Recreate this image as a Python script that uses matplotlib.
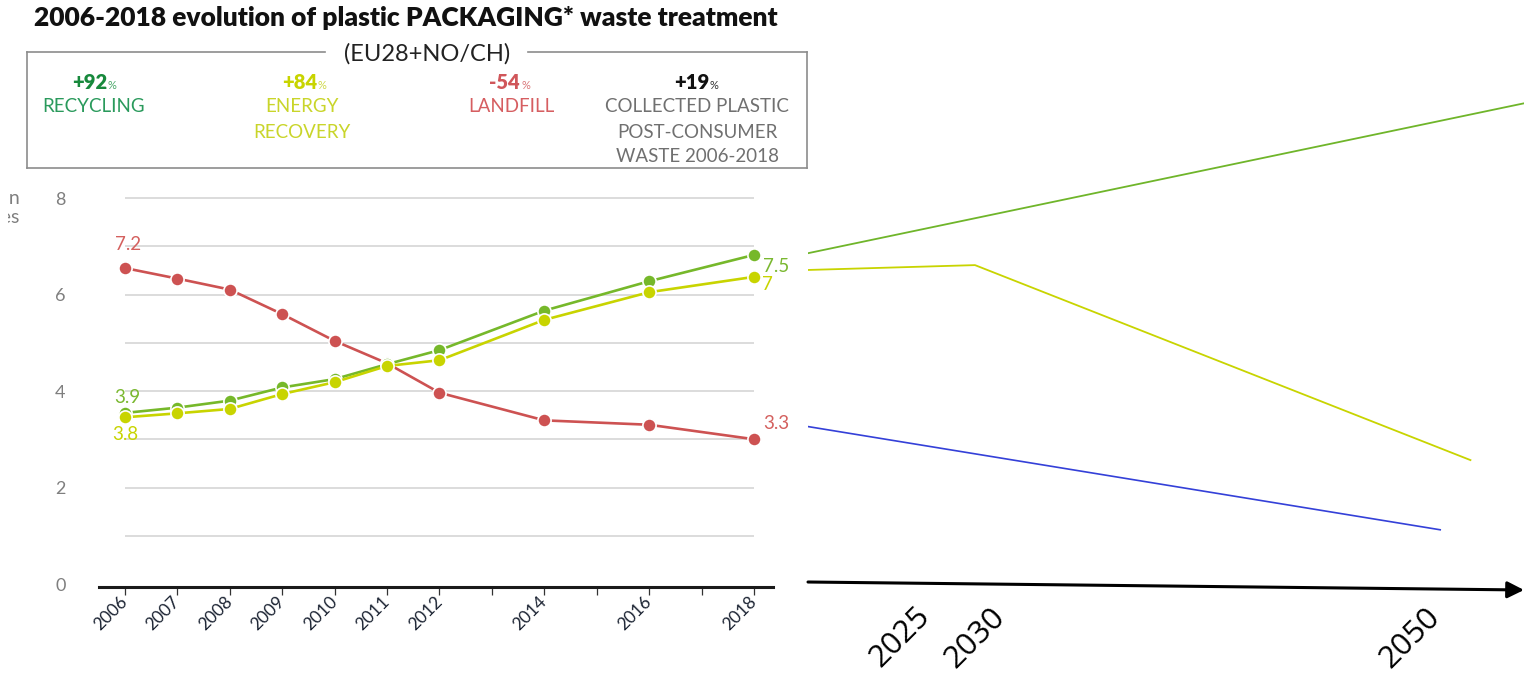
import numpy as np
import matplotlib
matplotlib.use("Agg")
import matplotlib.pyplot as plt
from matplotlib.lines import Line2D
from matplotlib.transforms import Bbox, TransformedBbox

# ---------------- data ----------------
years = [2006, 2007, 2008, 2009, 2010, 2011, 2012, 2014, 2016, 2018]
recycling = [3.9, 4.02, 4.18, 4.48, 4.67, 5.01, 5.33, 6.23, 6.90, 7.5]
energy_recovery = [3.8, 3.89, 3.99, 4.33, 4.60, 4.97, 5.10, 6.02, 6.65, 7.0]
landfill = [7.2, 6.96, 6.71, 6.15, 5.54, 5.03, 4.36, 3.73, 3.63, 3.3]

year_ticks = list(range(2006, 2019))
year_tick_labels = [str(y) if y in years else "" for y in year_ticks]
y_tick_values = [0, 2, 4, 6, 8]
y_tick_labels = ["0", "2", "4", "6", "8"]

change_values = ["+92", "+84", "-54", "+19"]
change_names = ["RECYCLING", "ENERGY\nRECOVERY", "LANDFILL",
                "COLLECTED PLASTIC\nPOST-CONSUMER\nWASTE 2006-2018"]

# projections beyond 2018
proj_recycling_years = [2018, 2055.3]
proj_recycling = [7.5, 10.9]
proj_energy_years = [2018, 2030, 2052.8]
proj_energy = [7.12, 7.23, 2.81]
proj_landfill_years = [2018, 2051.4]
proj_landfill = [3.57, 1.23]
proj_ticks = [2025, 2030, 2050]

# ---------------- styling ----------------
W, H = 1524, 679
RED, GREEN, YELLOW, BLUE = "#cd5252", "#76b82a", "#c8d400", "#3440d8"
GRID_STEP = 1 / 0.91          # printed axis units per data unit
FONT = "Lato"

def fx(x):
    return x / W

def fy(y):
    return 1 - y / H

fig = plt.figure(figsize=(W / 100, H / 100), dpi=100)
fig.patch.set_facecolor("white")

# ---------------- title and header box ----------------
fig.text(fx(406), fy(18), "2006-2018 evolution of plastic PACKAGING* waste treatment",
         ha="center", va="center", fontsize=19, fontweight="heavy", family=FONT, color="#111111")

box_col = "#8c8c8c"
for xs, ys in [([27, 325], [52, 52]), ([528, 807], [52, 52]), ([807, 807], [52, 168]),
               ([27, 807], [168, 168]), ([27, 27], [52, 168])]:
    fig.add_artist(Line2D([fx(v) for v in xs], [fy(v) for v in ys],
                          transform=fig.transFigure, color=box_col, lw=1.2))
fig.text(fx(427), fy(54), "(EU28+NO/CH)", ha="center", va="center",
         fontsize=17, family=FONT, color="#222222")

num_colors = ["#17893c", YELLOW, "#d0565a", "#111111"]
pct_colors = ["#4aa86a", "#cfd94a", "#d9777a", "#333333"]
name_colors = ["#2a9a5c", "#c9d52a", "#d65e61", "#707070"]
num_right = [107, 317, 520, 709]
name_center = [94, 302, 511, 697]
for val, name, nc, pc, tc, xr, xc in zip(change_values, change_names, num_colors,
                                          pct_colors, name_colors, num_right, name_center):
    fig.text(fx(xr), fy(89), val, ha="right", va="baseline", fontsize=14.5,
             fontweight="heavy", family=FONT, color=nc)
    fig.text(fx(xr + 1), fy(89), "%", ha="left", va="baseline", fontsize=8,
             family=FONT, color=pc)
    for i, line in enumerate(name.split("\n")):
        fig.text(fx(xc), fy(107 + 25 * i), line, ha="center", va="center",
                 fontsize=13.5, family=FONT, color=tc)

# axis title: only its right-hand end shows, the panel is cropped at the left
unit_title = fig.text(fx(20), fy(208), "Million\ntonnes", ha="right", va="center",
                      fontsize=14, family=FONT, color="#7f7f7f", linespacing=1.1)
unit_title.set_clip_box(TransformedBbox(Bbox([[fx(8), 0], [1, 1]]), fig.transFigure))
unit_title.set_clip_on(True)

# ---------------- 2006-2018 chart ----------------
ax = fig.add_axes([fx(99), fy(587), fx(773) - fx(99), fy(190) - fy(587)])
ax.set_xlim(2005.504, 2018.363)
ax.set_ylim(-0.067, 8.979)
for s in ["top", "right", "left"]:
    ax.spines[s].set_visible(False)
ax.spines["bottom"].set_linewidth(2.2)
ax.spines["bottom"].set_color("#1a1a1a")
ax.set_facecolor("none")

ax.hlines([k * GRID_STEP for k in range(1, 9)], years[0], years[-1],
          color="#d9d9d9", lw=1.3, zorder=0)

ax.set_xticks(year_ticks, labels=year_tick_labels)
ax.tick_params(axis="x", length=5.8, width=0.9, color="#333333", pad=3,
               labelsize=12.5, labelcolor="#1c2433")
for lab in ax.get_xticklabels():
    lab.set_rotation(45)
    lab.set_ha("right")
    lab.set_va("center")
    lab.set_rotation_mode("anchor")
    lab.set_family(FONT)

ax.set_yticks([v * GRID_STEP for v in y_tick_values], labels=y_tick_labels)
ax.tick_params(axis="y", length=0, pad=24, labelsize=13, labelcolor="#7f7f7f")
for lab in ax.get_yticklabels():
    lab.set_family(FONT)

mk = dict(marker="o", ms=9.5, mec="white", mew=1.2, lw=1.9, clip_on=False)
ax.plot(years, landfill, color=RED, mfc=RED, zorder=3, **mk)
ax.plot(years, recycling, color=GREEN, mfc=GREEN, zorder=4, **mk)
ax.plot(years, energy_recovery, color=YELLOW, mfc=YELLOW, zorder=5, **mk)

def value_label(x, y, dx, dy, color, ha="center"):
    ax.annotate(f"{y:g}", xy=(x, y), xytext=(dx, dy), textcoords="offset pixels",
                ha=ha, va="center", fontsize=13.5, family=FONT, color=color,
                annotation_clip=False)

value_label(years[0], landfill[0], 3, 24, "#d4605e")
value_label(years[0], recycling[0], 2, 15, "#7ab830")
value_label(years[0], energy_recovery[0], 0, -17, YELLOW)
value_label(years[-1], recycling[-1], 9, -12, "#7ab830", ha="left")
value_label(years[-1], energy_recovery[-1], 8, -8, YELLOW, ha="left")
value_label(years[-1], landfill[-1], 9, 16, "#d4605e", ha="left")

# ---------------- projection sketch ----------------
_tl_years = [2018, 2025, 2030, 2050, 2060]
_tl_pos = [808, 900, 975, 1410, 1626]

def _fwd(x):
    return np.interp(x, _tl_years, _tl_pos)

def _inv(p):
    return np.interp(p, _tl_pos, _tl_years)

ax2 = fig.add_axes([fx(808), fy(587), fx(1524) - fx(808), fy(0) - fy(587)])
ax2.set_xscale("function", functions=(_fwd, _inv))
ax2.set_xlim(2018, 2055.28)
ax2.set_ylim(-0.067, 13.24)
ax2.set_facecolor("none")
for s in ax2.spines.values():
    s.set_visible(False)
ax2.yaxis.set_visible(False)

ax2.plot(proj_recycling_years, proj_recycling, color="#6fb52a", lw=1.3)
ax2.plot(proj_energy_years, proj_energy, color=YELLOW, lw=1.3)
ax2.plot(proj_landfill_years, proj_landfill, color=BLUE, lw=1.2)

ax2.set_xticks(proj_ticks, labels=[str(t) for t in proj_ticks])
ax2.tick_params(axis="x", length=0, pad=10.5, labelsize=22.5, labelcolor="black")
for lab in ax2.get_xticklabels():
    lab.set_rotation(45)
    lab.set_family("Open Sans")

ax2.annotate("", xy=(1.0, -0.0051), xytext=(0.0, 0.0085), xycoords="axes fraction",
             arrowprops=dict(arrowstyle="-|>", color="black", lw=2.2,
                             mutation_scale=25, shrinkA=0, shrinkB=0),
             annotation_clip=False)

fig.savefig("out.png", dpi=100)
